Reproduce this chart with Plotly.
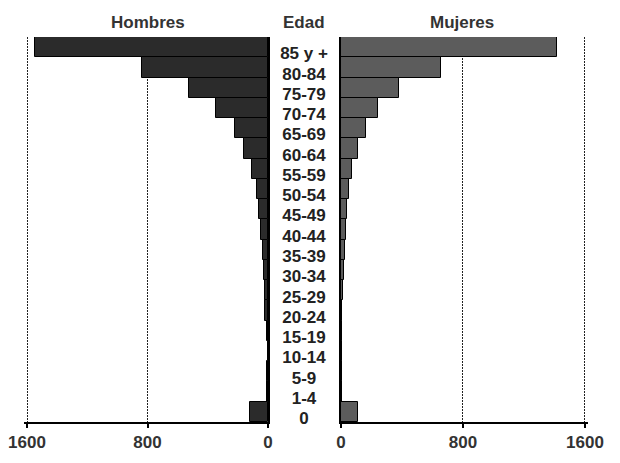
import plotly.graph_objects as go

# grupos de edad, de arriba hacia abajo
edades = ["85 y +", "80-84", "75-79", "70-74", "65-69", "60-64", "55-59",
          "50-54", "45-49", "40-44", "35-39", "30-34", "25-29", "20-24",
          "15-19", "10-14", "5-9", "1-4", "0"]
hombres = [1550, 835, 522, 343, 219, 157, 108, 75, 58, 48, 35, 27, 22, 18,
           9, 3, 4, 8, 120]
mujeres = [1414, 654, 382, 240, 162, 114, 74, 55, 37, 31, 26, 22, 11, 9,
           7, 4, 4, 5, 109]
ticks = [0, 800, 1600]

# la página deja 8 px de margen en el body, por eso 612x455
W, H = 612, 455
fuente = "Liberation Sans, Arial, sans-serif"

fig = go.Figure()
fig.add_trace(go.Bar(x=hombres, y=edades, orientation="h", xaxis="x", yaxis="y",
                     marker=dict(color="#2b2b2b", line=dict(color="#000", width=1)),
                     showlegend=False))
fig.add_trace(go.Bar(x=mujeres, y=edades, orientation="h", xaxis="x2", yaxis="y2",
                     marker=dict(color="#5c5c5c", line=dict(color="#000", width=1)),
                     showlegend=False))
# etiquetas de edad en el centro
fig.add_trace(go.Scatter(x=[0] * len(edades), y=edades, mode="text", text=edades,
                         textposition="middle center", xaxis="x3", yaxis="y3",
                         textfont=dict(size=17, color="#222", family=fuente,
                                       weight="bold"),
                         showlegend=False, hoverinfo="skip"))

ejex = dict(tickvals=ticks, ticktext=[str(t) for t in ticks], showgrid=True,
            gridcolor="#222", griddash="2px,1px", gridwidth=1, zeroline=False,
            showline=True, linecolor="#000", linewidth=1.5, ticks="outside",
            ticklen=4, tickcolor="#000", tickwidth=1.5, automargin=False,
            ticklabeloverflow="allow",
            tickfont=dict(size=17, color="#333", family=fuente, weight="bold"))
ejey = dict(showticklabels=False, showgrid=False, zeroline=False, showline=True,
            linecolor="#000", linewidth=1.5, ticks="", range=[18.5, -0.5],
            type="category", categoryorder="array", categoryarray=edades,
            automargin=False)

ydom = [1 - 414 / H, 1 - 29 / H]
ydom_txt = [ydom[0] - 8 / H, ydom[1] - 8 / H]
# un poco más allá de 1600 para que se vea la rejilla del borde
fig.update_layout(
    width=W, height=H, margin=dict(l=0, r=0, t=0, b=0, autoexpand=False),
    paper_bgcolor="white", plot_bgcolor="white", bargap=0,
    xaxis=dict(ejex, domain=[16 / W, 260 / W], range=[1620, 0], anchor="y"),
    yaxis=dict(ejey, domain=ydom, anchor="x", side="right"),
    xaxis2=dict(ejex, domain=[333 / W, 580 / W], range=[0, 1620], anchor="y2"),
    yaxis2=dict(ejey, domain=ydom, anchor="x2", side="left"),
    xaxis3=dict(domain=[262 / W, 330 / W], range=[-1, 1], visible=False,
                anchor="y3"),
    yaxis3=dict(ejey, domain=ydom_txt, anchor="x3", visible=False),
)

# títulos
for txt, xp in [("Hombres", 140), ("Edad", 296), ("Mujeres", 454)]:
    fig.add_annotation(x=xp / W, xref="paper", y=1 - 14 / H, yref="paper",
                       text=txt, showarrow=False, xanchor="center",
                       yanchor="middle",
                       font=dict(size=17, color="#333", family=fuente, weight="bold"))

fig.write_html("out.html")
